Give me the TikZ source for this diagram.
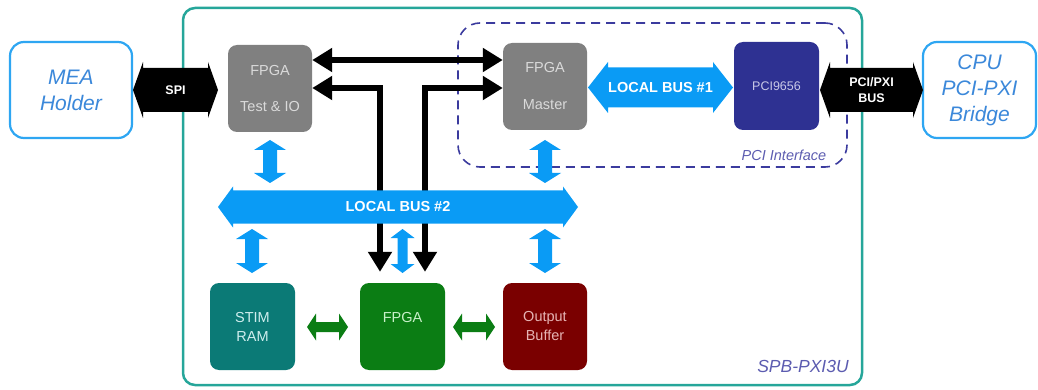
\documentclass[tikz,border=0pt]{standalone}
\usepackage{fontspec}
\setmainfont{Liberation Sans}
\usetikzlibrary{calc,arrows.meta}

\definecolor{boardteal}{HTML}{26A69A}
\definecolor{linkblue}{HTML}{2EA6F2}
\definecolor{linktext}{HTML}{3B88DA}
\definecolor{busblue}{HTML}{0A9BF5}
\definecolor{chipgray}{HTML}{808080}
\definecolor{chiptext}{HTML}{DADADA}
\definecolor{chipnavy}{HTML}{2E3192}
\definecolor{navytext}{HTML}{C8C8E6}
\definecolor{ramteal}{HTML}{0B7A76}
\definecolor{ramtext}{HTML}{CFEEEE}
\definecolor{fpgagreen}{HTML}{0B7D14}
\definecolor{greentext}{HTML}{C8F0C8}
\definecolor{bufred}{HTML}{7A0000}
\definecolor{buftext}{HTML}{E6B4B4}
\definecolor{pcidash}{HTML}{3B3B9E}
\definecolor{pcilabel}{HTML}{5C5CB0}

% horizontal fat double arrow: x1, x2, y, half shaft, half head, head length, colour
\newcommand\fatH[7]{%
  \fill[#7] (#1,#3) -- ({#1+#6},{#3-#5}) -- ({#1+#6},{#3-#4}) -- ({#2-#6},{#3-#4})
    -- ({#2-#6},{#3-#5}) -- (#2,#3) -- ({#2-#6},{#3+#5}) -- ({#2-#6},{#3+#4})
    -- ({#1+#6},{#3+#4}) -- ({#1+#6},{#3+#5}) -- cycle;}
% vertical fat double arrow: x, y1, y2, half shaft, half head, head length, colour
\newcommand\fatV[7]{%
  \fill[#7] (#1,#2) -- ({#1+#5},{#2+#6}) -- ({#1+#4},{#2+#6}) -- ({#1+#4},{#3-#6})
    -- ({#1+#5},{#3-#6}) -- (#1,#3) -- ({#1-#5},{#3-#6}) -- ({#1-#4},{#3-#6})
    -- ({#1-#4},{#2+#6}) -- ({#1-#5},{#2+#6}) -- cycle;}

\tikzset{
  chip/.style={rounded corners=9pt, minimum width=84pt, minimum height=87pt,
    inner sep=0pt, align=center, font=\fontsize{14.5}{17}\selectfont},
  ext/.style={draw=linkblue, line width=2.2pt, rounded corners=14pt, fill=white,
    minimum height=96pt, inner sep=0pt, align=center, text=linktext,
    font=\itshape\fontsize{21}{26}\selectfont},
  wire/.style={line width=6pt,
    {Triangle[length=20pt,width=23pt]}-{Triangle[length=20pt,width=23pt]}},
  buslabel/.style={text=white, inner sep=0pt, align=center,
    font=\bfseries\fontsize{14.5}{17}\selectfont},
  linklabel/.style={text=white, inner sep=0pt, align=center,
    font=\bfseries\fontsize{12.5}{16}\selectfont},
  tag/.style={text=pcilabel, inner sep=0pt, font=\itshape\fontsize{14.5}{17}\selectfont},
}

\begin{document}
\begin{tikzpicture}[x=1pt,y=-1pt]
\useasboundingbox (0,0) rectangle (1038,390);

% board outline and PCI interface group
\node[draw=boardteal, line width=2.5pt, rounded corners=12pt,
  minimum width=679pt, minimum height=377pt] (board) at (522.5,196.5) {};
\node[draw=pcidash, line width=1.6pt, dash pattern=on 9pt off 6pt,
  rounded corners=22pt, minimum width=389pt, minimum height=144pt] (pci) at (652.5,95) {};
\node[tag] (pcitag) at (784,155) {PCI Interface};
\node[tag, font=\itshape\fontsize{17.5}{20}\selectfont] (boardtag) at (803,366) {SPB-PXI3U};

% external units
\node[ext, minimum width=122pt] (mea) at (71,90) {MEA\\Holder};
\node[ext, minimum width=113pt] (cpu) at (979.5,90) {CPU\\PCI-PXI\\Bridge};

% devices on the board
\node[chip, fill=chipgray, text=chiptext] (tio) at (270,88.5) {FPGA\\[19pt]Test \& IO};
\node[chip, fill=chipgray, text=chiptext] (master) at (545,86.5) {FPGA\\[20pt]Master};
\node[chip, fill=chipnavy, text=navytext, minimum width=85pt, minimum height=88pt,
  font=\fontsize{12.5}{15}\selectfont] (bridge) at (776.5,86) {PCI9656};
\node[chip, fill=ramteal, text=ramtext, minimum width=85pt,
  font=\fontsize{14.5}{19}\selectfont] (ram) at (252.5,326.5) {STIM\\RAM};
\node[chip, fill=fpgagreen, text=greentext, minimum width=85pt,
  font=\fontsize{14.5}{19}\selectfont] (fpga) at (402.5,326.5) {FPGA\\\mbox{}};
\node[chip, fill=bufred, text=buftext,
  font=\fontsize{14.5}{19}\selectfont] (buf) at (545,326.5) {Output\\Buffer};

% direct lines between the FPGAs
\coordinate (dl) at ($(fpga.north)+(-22.5,-11)$);
\coordinate (dr) at ($(fpga.north)+(22.5,-11)$);
\draw[wire] (tio.east |- 0,60) -- (master.west |- 0,60);
\draw[wire] (tio.east |- 0,88) -| (dl);
\draw[wire] (master.west |- 0,88) -| (dr);

% external links
\fatH{133}{218}{90}{22}{28}{10}{black}
\node[linklabel] (spi) at (175.5,90) {SPI};
\fatH{820}{923}{90}{22}{28}{10}{black}
\node[linklabel] (pcibus) at (871.5,90) {PCI/PXI\\BUS};

% local buses
\fatH{588}{733}{87.5}{20}{25.5}{20}{busblue}
\node[buslabel] (lb1) at (660.5,87.5) {LOCAL BUS \#1};
\fatH{218}{578}{207}{16.5}{20.5}{15}{busblue}
\node[buslabel] (lb2) at (398,207) {LOCAL BUS \#2};

% taps onto local bus #2
\fatV{270}{140}{183}{7}{16}{10}{busblue}
\fatV{545}{140}{183}{7}{16}{10}{busblue}
\fatV{252}{229}{273}{7}{16}{10}{busblue}
\fatV{402.5}{229}{273}{5}{12}{9}{busblue}
\fatV{545}{229}{273}{7}{16}{10}{busblue}

% memory links of the FPGA
\fatH{307}{348}{327}{5}{13.5}{9}{fpgagreen}
\fatH{453}{495}{327}{5}{13.5}{9}{fpgagreen}
\end{tikzpicture}
\end{document}
